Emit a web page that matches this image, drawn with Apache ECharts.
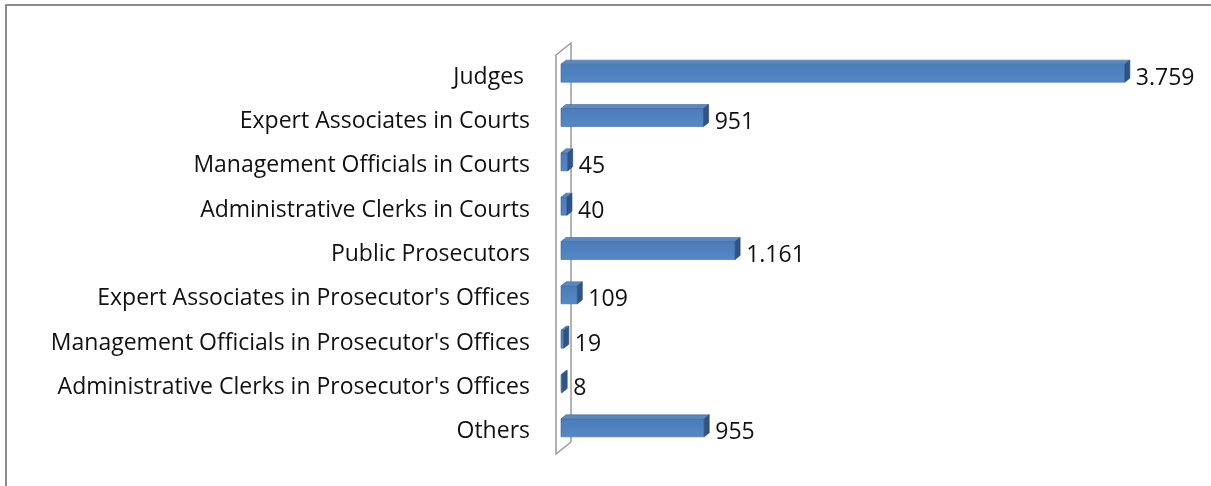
<!DOCTYPE html>
<html lang="en">
<head>
  <meta charset="UTF-8">
  <title>Staff</title>
  <style>
    html, body { margin: 0; padding: 0; background: #fff; }
  </style>
</head>
<body>
  <div id="chart" style="width:1211px;height:486px;"></div>
  <script src="https://cdn.jsdelivr.net/npm/echarts@6/dist/echarts.min.js"></script>
  <script>
  // categories top to bottom
  var categories = [
    'Judges ',
    'Expert Associates in Courts',
    'Management Officials in Courts',
    'Administrative Clerks in Courts',
    'Public Prosecutors',
    "Expert Associates in Prosecutor's Offices",
    "Management Officials in Prosecutor's Offices",
    "Administrative Clerks in Prosecutor's Offices",
    'Others'
  ];
  var values = [3759, 951, 45, 40, 1161, 109, 19, 8, 955];

  var FONT = '"Open Sans"';
  var FSIZE = 23;

  // 3.759 style
  function fmt(v) {
    return String(v).replace(/\B(?=(\d{3})+(?!\d))/g, '.');
  }

  var barData = values.map(function (v, i) { return [v, i]; });

  function renderBar(params, api) {
    var idx = api.value(1);
    var end = api.coord([api.value(0), idx]);
    var x0 = api.coord([0, idx])[0];
    var x1 = end[0];
    var c = end[1];
    var dx = 5, dy = 4;
    var yt = c - 13, yb = c + 5;
    return {
      type: 'group',
      children: [
        {
          type: 'rect',
          shape: { x: x0, y: yt, width: Math.max(x1 - x0, 0.5), height: yb - yt },
          style: {
            fill: new echarts.graphic.LinearGradient(0, 0, 0, 1, [
              { offset: 0, color: '#4b7cb9' },
              { offset: 1, color: '#5588c5' }
            ]),
            stroke: '#3d6aa2', lineWidth: 0.6
          }
        },
        {
          type: 'polygon',
          shape: { points: [[x0, yt], [x1, yt], [x1 + dx, yt - dy], [x0 + dx, yt - dy]] },
          style: { fill: '#5a89c2', stroke: '#3d6aa2', lineWidth: 0.6 }
        },
        {
          type: 'polygon',
          shape: { points: [[x1, yt], [x1 + dx, yt - dy], [x1 + dx, yb - dy], [x1, yb]] },
          style: { fill: '#2f5384', stroke: '#2b4c7a', lineWidth: 0.6 }
        },
        {
          type: 'text',
          style: {
            x: x1 + 11, y: c + 1,
            text: fmt(api.value(0)),
            font: FSIZE + 'px ' + FONT,
            fill: '#111',
            verticalAlign: 'middle',
            align: 'left'
          }
        }
      ]
    };
  }

  // the thin side wall behind the bars
  function renderWall(params, api) {
    var p = api.coord([0, 0]);
    var band = api.size([0, 1])[1];
    var top = p[1] - band / 2;
    var bottom = top + band * categories.length;
    var xf = p[0] - 5, xb = p[0] + 10, off = 12;
    return {
      type: 'polyline',
      shape: { points: [[xb, bottom - off], [xb, top - off], [xf, top], [xf, bottom], [xb, bottom - off]] },
      style: { fill: null, stroke: '#9a9a9a', lineWidth: 1.5 }
    };
  }

  var myChart = echarts.init(document.getElementById('chart'));
  var option = {
    animation: false,
    graphic: [{
      type: 'rect',
      shape: { x: 6, y: 5, width: 1240, height: 520 },
      style: { fill: null, stroke: '#8c8c8c', lineWidth: 2 },
      z: 0
    }],
    grid: { left: 561, right: 50, top: 55, bottom: 32 },
    xAxis: { type: 'value', min: 0, max: 4000, show: false },
    yAxis: {
      type: 'category',
      inverse: true,
      data: categories,
      axisLine: { show: false },
      axisTick: { show: false },
      axisLabel: { margin: 31, fontSize: FSIZE, fontFamily: FONT, color: '#111', padding: [2, 0, 0, 0] }
    },
    series: [
      {
        type: 'custom',
        renderItem: renderWall,
        data: [[0, 0]],
        encode: { x: 0, y: 1 },
        z: 1,
        silent: true
      },
      {
        type: 'custom',
        renderItem: renderBar,
        data: barData,
        encode: { x: 0, y: 1 },
        z: 2
      }
    ]
  };
  myChart.setOption(option);
  </script>
</body>
</html>
